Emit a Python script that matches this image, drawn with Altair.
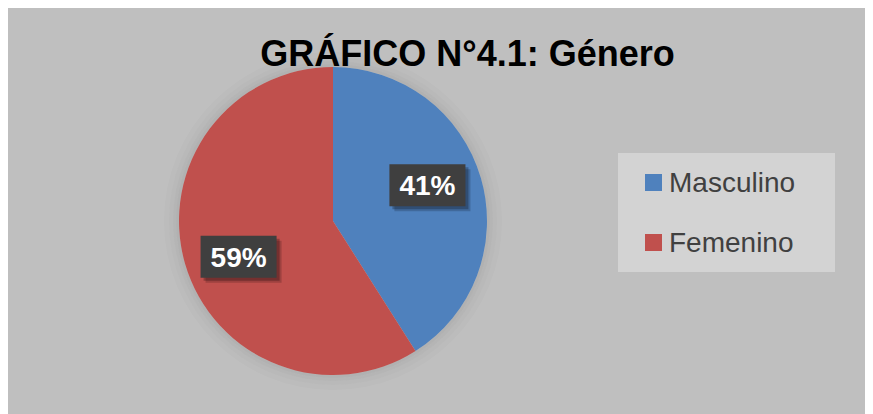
import math
import altair as alt
import pandas as pd

# ---- data ----
CATEGORIES = ["Masculino", "Femenino"]
VALUES = [41, 59]
LABELS = ["41%", "59%"]
COLORS = ["#4f81bd", "#c0504d"]
TITLE = "GRÁFICO N°4.1: Género"

df = pd.DataFrame({"cat": CATEGORIES, "value": VALUES, "label": LABELS,
                   "idx": list(range(len(CATEGORIES)))})
title_df = pd.DataFrame({"t": [TITLE]})
one = pd.DataFrame({"k": [0]})

# ---- layout (pixels) ----
W, H = 857, 406
CX, CY, R = 325, 213, 154
LR = 101          # label radius
LSHIFT = 0.08     # label angle shift (rad)
LEG_X0, LEG_Y0, LEG_STEP = 645.5, 174.5, 60
FONT = "Liberation Sans"

color = alt.Color("cat:N", scale=alt.Scale(domain=CATEGORIES, range=COLORS), legend=None)
center = dict(x=alt.value(CX), y=alt.value(CY))

# pie shadow rings
rings = []
for r1, r2, op in [(154, 157, 0.07), (157, 160, 0.05), (160, 164, 0.03), (164, 169, 0.015)]:
    rings.append(
        alt.Chart(one).mark_arc(theta=0, theta2=2 * math.pi, radius=r2, radius2=r1,
                                color="black", opacity=op).encode(**center)
    )

pie = alt.Chart(df).mark_arc(radius=R, strokeWidth=0).encode(
    theta=alt.Theta("value:Q", stack=True),
    order=alt.Order("idx:Q"),
    color=color,
    **center,
)

lab_base = alt.Chart(df).transform_window(
    cum="sum(value)", sort=[alt.SortField("idx")]
).transform_joinaggregate(total="sum(value)").transform_calculate(
    mid=f"(datum.cum - datum.value/2)/datum.total*2*PI - {LSHIFT}"
).transform_calculate(
    lx=f"{CX} + {LR}*sin(datum.mid)",
    ly=f"{CY} - {LR}*cos(datum.mid)",
).encode(
    x=alt.X("lx:Q", scale=None, axis=None),
    y=alt.Y("ly:Q", scale=None, axis=None),
)

BOX = "M-1.81,-1H1.81V1H-1.81Z"
box_sh1 = lab_base.mark_point(shape=BOX, size=1764, filled=True, color="black",
                              opacity=0.18, strokeWidth=0, xOffset=5, yOffset=5)
box_sh2 = lab_base.mark_point(shape=BOX, size=1764, filled=True, color="black",
                              opacity=0.25, strokeWidth=0, xOffset=3, yOffset=3)
box = lab_base.mark_point(shape=BOX, size=1764, filled=True, color="#3f3f3f",
                          opacity=1, strokeWidth=0)
lab_text = lab_base.mark_text(font=FONT, fontSize=28, fontWeight="bold", color="white",
                              align="center", baseline="alphabetic", dy=10).encode(
    text="label:N")

# legend
leg_box = alt.Chart(one).mark_rect(color="#d3d3d3").encode(
    x=alt.value(610), x2=alt.value(827), y=alt.value(145), y2=alt.value(264))
leg_base = alt.Chart(df).transform_calculate(
    gy=f"{LEG_Y0} + datum.idx*{LEG_STEP}"
).encode(y=alt.Y("gy:Q", scale=None, axis=None))
leg_sym = leg_base.mark_point(shape="square", size=289, filled=True, opacity=1,
                              strokeWidth=0).encode(x=alt.value(LEG_X0), color=color)
leg_txt = leg_base.mark_text(font=FONT, fontSize=28, color="#404040", align="left",
                             baseline="middle", dy=1).encode(
    x=alt.value(661), text="cat:N")

title = alt.Chart(title_df).mark_text(font=FONT, fontSize=36, fontWeight="bold",
                                      color="black", align="center",
                                      baseline="alphabetic").encode(
    x=alt.value(459.5), y=alt.value(58), text="t:N")

chart = alt.layer(*rings, pie, box_sh1, box_sh2, box, lab_text,
                  leg_box, leg_sym, leg_txt, title).properties(
    width=W, height=H, padding=0, autosize=alt.AutoSizeParams(type="none"),
    background="#bfbfbf",
).configure_view(stroke=None)

chart.save("out.html", embed_options={"renderer": "svg", "actions": False})
